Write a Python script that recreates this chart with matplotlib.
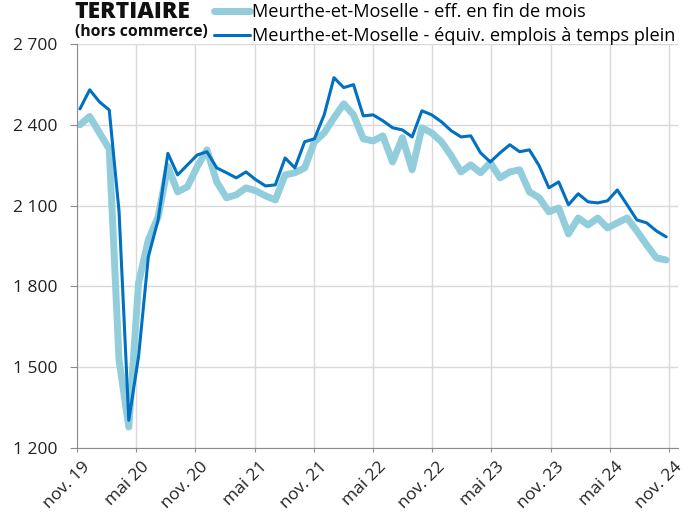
import matplotlib.pyplot as plt
import matplotlib.transforms as mtransforms
from matplotlib.ticker import FuncFormatter

plt.rcParams['font.family'] = ['Open Sans', 'DejaVu Sans']

# monthly values, nov. 19 -> nov. 24
eff_fin_mois = [2400, 2431, 2370, 2310, 1527, 1278, 1813, 1973, 2058, 2245,
                2151, 2170, 2244, 2307, 2188, 2129, 2140, 2166, 2155, 2136,
                2121, 2214, 2222, 2240, 2337, 2370, 2426, 2478, 2437, 2348,
                2340, 2359, 2262, 2352, 2233, 2389, 2370, 2337, 2285, 2225,
                2251, 2222, 2259, 2203, 2225, 2233, 2151, 2129, 2077, 2091,
                1995, 2054, 2028, 2054, 2017, 2036, 2054, 2006, 1954, 1906,
                1898]
equiv_etp = [2459, 2530, 2485, 2455, 2080, 1303, 1540, 1910, 2047, 2294,
             2214, 2251, 2288, 2300, 2240, 2222, 2203, 2225, 2196, 2173,
             2177, 2277, 2240, 2337, 2348, 2437, 2575, 2538, 2549, 2433,
             2437, 2415, 2389, 2381, 2355, 2452, 2437, 2411, 2378, 2355,
             2359, 2296, 2262, 2296, 2326, 2300, 2307, 2248, 2166, 2188,
             2103, 2144, 2114, 2110, 2118, 2158, 2103, 2047, 2036, 2006,
             1984]
tick_labels = ["nov. 19", "mai 20", "nov. 20", "mai 21", "nov. 21", "mai 22",
               "nov. 22", "mai 23", "nov. 23", "mai 24", "nov. 24"]
y_ticks = [1200, 1500, 1800, 2100, 2400, 2700]

# points sit a little right of the month ticks (date axis in the original)
xpos = [0.3 + i * 0.99 for i in range(len(eff_fin_mois))]

fig = plt.figure(figsize=(6.91, 5.15), dpi=100)
ax = fig.add_axes([0.1114, 0.130, 0.8698, 0.7846])

ax.plot(xpos, eff_fin_mois, color='#92CDDC', linewidth=5,
        solid_joinstyle='round', solid_capstyle='round',
        label="Meurthe-et-Moselle - eff. en fin de mois")
ax.plot(xpos, equiv_etp, color='#0070C0', linewidth=2.2,
        solid_joinstyle='round', solid_capstyle='round',
        label="Meurthe-et-Moselle - équiv. emplois à temps plein")

ax.set_xlim(0, 60.9)
ax.set_ylim(1200, 2700)
ax.set_yticks(y_ticks)
ax.yaxis.set_major_formatter(FuncFormatter(lambda v, p: f"{int(v):,}".replace(",", " ")))
ax.set_xticks(range(0, 61, 6))
ax.set_xticklabels(tick_labels, rotation=45, ha='right', rotation_mode='anchor')

ax.grid(True, color='#d9d9d9', linewidth=1)
ax.set_axisbelow(True)
for s in ['top', 'right']:
    ax.spines[s].set_visible(False)
for s in ['left', 'bottom']:
    ax.spines[s].set_color('#8c8c8c')
ax.tick_params(axis='both', colors='#8c8c8c', labelcolor='#222222',
               labelsize=12.5, direction='out')
ax.tick_params(axis='x', length=3, pad=5)
ax.tick_params(axis='y', length=5, pad=9)

shift = mtransforms.ScaledTranslation(5 / 100, 0, fig.dpi_scale_trans)
for lab in ax.get_xticklabels():
    lab.set_transform(lab.get_transform() + shift)

fig.text(0.108, 0.976, "TERTIAIRE", fontsize=16.5, fontweight='heavy',
         va='center', ha='left', color='#111111')
fig.text(0.108, 0.938, "(hors commerce)", fontsize=11.3, fontweight='bold',
         va='center', ha='left', color='#111111')

fig.legend(loc='center left', bbox_to_anchor=(0.309, 0.953), frameon=False,
           fontsize=13.1, handlelength=2.0, handletextpad=0.1,
           labelspacing=0.33, borderaxespad=0, borderpad=0)

fig.savefig("out.png", dpi=100)
